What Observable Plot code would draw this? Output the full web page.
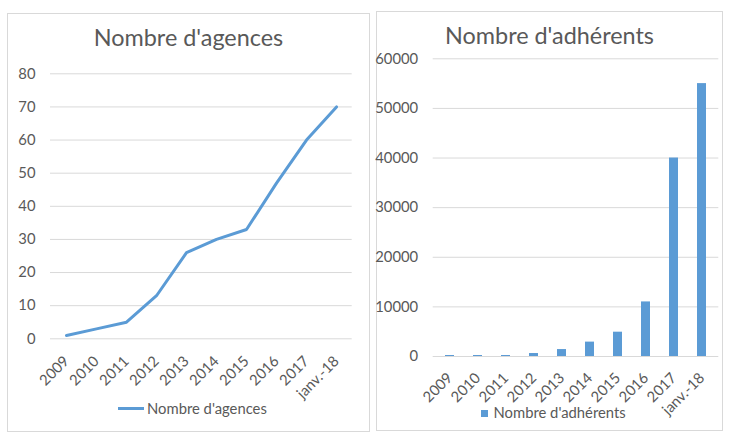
<!DOCTYPE html>
<html>
<head>
<meta charset="utf-8">
<script src="https://cdn.jsdelivr.net/npm/d3@7"></script>
<script src="https://cdn.jsdelivr.net/npm/@observablehq/plot@0.6"></script>
<style>
  html, body { margin: 0; padding: 0; background: #fff; }
  body { width: 737px; height: 445px; position: relative; overflow: hidden; font-family: Lato, sans-serif; color: #595959; }
  .panel { position: absolute; border: 1px solid #D9D9D9; box-sizing: border-box; }
  .title { position: absolute; text-align: center; font-size: 23.4px; line-height: 23.4px; white-space: nowrap; }
  .legend { position: absolute; font-size: 14.8px; line-height: 14.8px; white-space: nowrap; display: flex; align-items: center; }
  .chart { position: absolute; }
  .chart svg { max-width: none; overflow: visible; }
</style>
</head>
<body>
<div class="panel" style="left:7px;top:13px;width:363px;height:419px"></div>
<div class="panel" style="left:376px;top:11px;width:347px;height:420px"></div>
<div class="title" style="left:7px;width:363px;top:25.7px">Nombre d'agences</div>
<div class="title" style="left:376px;width:347px;top:24.2px">Nombre d'adhérents</div>
<div id="c1" class="chart" style="left:0px;top:60px"></div>
<div id="c2" class="chart" style="left:376px;top:50px"></div>
<div class="legend" style="left:118px;top:400.5px"><span style="display:inline-block;width:26px;height:3px;background:#5B9BD5;margin-right:3px;position:relative;top:1px"></span><span>Nombre d'agences</span></div>
<div class="legend" style="left:481px;top:405px"><span style="display:inline-block;width:6.5px;height:6.5px;background:#5B9BD5;margin-right:6px;position:relative;top:1px"></span><span>Nombre d'adhérents</span></div>
<script>
const categories = ["2009", "2010", "2011", "2012", "2013", "2014", "2015", "2016", "2017", "janv.-18"];
const agences = [1, 3, 5, 13, 26, 30, 33, 47, 60, 70];
const adherents = [200, 200, 200, 600, 1400, 2900, 4900, 11000, 40000, 55000];
const agencesTicks = [0, 10, 20, 30, 40, 50, 60, 70, 80];
const adherentsTicks = [0, 10000, 20000, 30000, 40000, 50000, 60000];

const blue = "#5B9BD5";
const grid = "#D9D9D9";
const baseStyle = {fontFamily: "Lato, sans-serif", fontSize: "14.8px", color: "#595959", background: "transparent", overflow: "visible"};

const dataA = categories.map((c, i) => ({cat: c, v: agences[i]}));
const dataB = categories.map((c, i) => ({cat: c, v: adherents[i]}));

const p1 = Plot.plot({
  width: 370, height: 340,
  marginLeft: 50, marginRight: 18.3, marginTop: 13.3, marginBottom: 61.7,
  style: baseStyle,
  x: {type: "point", domain: categories, padding: 0.5, label: null, tickSize: 0, tickPadding: 20, tickRotate: -45},
  y: {domain: [0, 80], ticks: agencesTicks, tickSize: 0, tickPadding: 15, label: null},
  marks: [
    Plot.ruleY(agencesTicks, {stroke: grid, strokeWidth: 1}),
    Plot.line(dataA, {x: "cat", y: "v", stroke: blue, strokeWidth: 3, strokeLinejoin: "round", strokeLinecap: "round"})
  ]
});
document.getElementById("c1").appendChild(p1);

const p2 = Plot.plot({
  width: 346, height: 370,
  marginLeft: 56.7, marginRight: 3.7, marginTop: 8.3, marginBottom: 64,
  style: baseStyle,
  x: {type: "band", domain: categories, paddingInner: 0.685, paddingOuter: 0.3425, label: null, tickSize: 0, tickPadding: 19, tickRotate: -45},
  y: {domain: [0, 60000], ticks: adherentsTicks, tickSize: 0, tickPadding: 15, label: null, tickFormat: d => String(d)},
  marks: [
    Plot.ruleY(adherentsTicks, {stroke: grid, strokeWidth: 1}),
    Plot.barY(dataB, {x: "cat", y: "v", fill: blue})
  ]
});
document.getElementById("c2").appendChild(p2);
</script>
</body>
</html>
